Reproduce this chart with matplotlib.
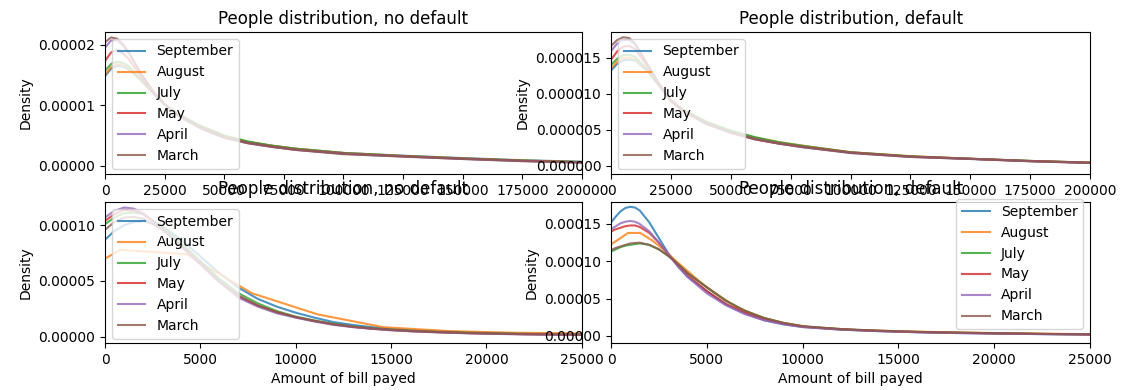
import matplotlib
matplotlib.use("Agg")
import matplotlib.pyplot as plt

plt.rcParams['axes.formatter.limits'] = (-7, 7)
plt.rcParams['font.family'] = ['DejaVu Sans']

months = ["September", "August", "July", "May", "April", "March"]
colors = ["C0", "C1", "C2", "C3", "C4", "C5"]

# top row: density (x1e-5)
x_wide = [0, 2500, 5000, 7500, 10000, 15000, 20000, 25000, 30000, 40000,
          50000, 60000, 70000, 80000, 100000, 125000, 150000, 175000, 200000]

no_default_wide = [
    [1.48, 1.60, 1.65, 1.64, 1.59, 1.41, 1.20, 1.01, 0.86, 0.65, 0.49, 0.39, 0.33, 0.28, 0.21, 0.165, 0.125, 0.09, 0.065],
    [1.50, 1.63, 1.68, 1.67, 1.61, 1.42, 1.21, 1.02, 0.87, 0.65, 0.49, 0.39, 0.33, 0.28, 0.21, 0.16, 0.12, 0.085, 0.06],
    [1.57, 1.68, 1.72, 1.70, 1.64, 1.43, 1.21, 1.02, 0.87, 0.66, 0.50, 0.40, 0.33, 0.28, 0.21, 0.16, 0.12, 0.085, 0.06],
    [1.73, 1.87, 1.91, 1.86, 1.76, 1.48, 1.22, 1.01, 0.85, 0.63, 0.47, 0.375, 0.315, 0.265, 0.20, 0.155, 0.115, 0.08, 0.055],
    [1.95, 2.07, 2.07, 1.99, 1.86, 1.53, 1.24, 1.01, 0.84, 0.62, 0.46, 0.37, 0.31, 0.26, 0.195, 0.15, 0.11, 0.075, 0.05],
    [2.04, 2.12, 2.10, 2.01, 1.87, 1.53, 1.24, 1.01, 0.84, 0.62, 0.46, 0.37, 0.31, 0.26, 0.19, 0.15, 0.11, 0.075, 0.05],
]

default_wide = [
    [1.32, 1.41, 1.46, 1.47, 1.46, 1.32, 1.11, 0.91, 0.77, 0.60, 0.48, 0.39, 0.32, 0.27, 0.19, 0.13, 0.10, 0.07, 0.045],
    [1.35, 1.44, 1.49, 1.50, 1.48, 1.33, 1.12, 0.91, 0.78, 0.60, 0.48, 0.39, 0.33, 0.28, 0.19, 0.135, 0.10, 0.07, 0.047],
    [1.40, 1.48, 1.53, 1.54, 1.51, 1.34, 1.12, 0.91, 0.78, 0.61, 0.49, 0.40, 0.33, 0.28, 0.19, 0.135, 0.10, 0.07, 0.047],
    [1.47, 1.58, 1.65, 1.66, 1.62, 1.39, 1.13, 0.90, 0.76, 0.58, 0.46, 0.37, 0.31, 0.265, 0.185, 0.13, 0.10, 0.068, 0.045],
    [1.59, 1.69, 1.74, 1.74, 1.68, 1.41, 1.14, 0.90, 0.76, 0.58, 0.46, 0.37, 0.31, 0.26, 0.18, 0.125, 0.097, 0.065, 0.042],
    [1.66, 1.74, 1.78, 1.77, 1.70, 1.42, 1.14, 0.90, 0.76, 0.58, 0.46, 0.37, 0.31, 0.26, 0.18, 0.125, 0.097, 0.065, 0.042],
]

# bottom row: amount of bill payed (x1e-4)
x_narrow = [0, 500, 1000, 1500, 2000, 3000, 4000, 5000, 6000, 7000, 8000, 9000, 10000, 11000, 12000,
            13000, 14000, 15000, 16000, 17000, 18000, 19000, 20000, 21000, 22000, 23000, 24000, 25000]
x_narrow_aug = [0, 800, 4250, 7700, 11150, 14600, 18050, 21500, 24950]

no_default_narrow = [
    [0.87, 0.95, 1.00, 1.03, 1.04, 0.99, 0.87, 0.72, 0.57, 0.44, 0.34, 0.27, 0.215, 0.17, 0.13, 0.105, 0.085, 0.07, 0.06, 0.052, 0.045, 0.04, 0.035, 0.031, 0.028, 0.026, 0.024, 0.022],
    [0.70, 0.78, 0.74, 0.39, 0.20, 0.085, 0.05, 0.035, 0.03],
    [1.01, 1.07, 1.11, 1.115, 1.10, 0.99, 0.84, 0.68, 0.52, 0.39, 0.30, 0.23, 0.18, 0.145, 0.115, 0.092, 0.075, 0.063, 0.053, 0.045, 0.04, 0.035, 0.031, 0.028, 0.025, 0.023, 0.021, 0.02],
    [1.04, 1.10, 1.14, 1.13, 1.10, 0.97, 0.81, 0.65, 0.49, 0.36, 0.28, 0.22, 0.175, 0.14, 0.11, 0.088, 0.072, 0.06, 0.05, 0.043, 0.037, 0.032, 0.028, 0.025, 0.022, 0.02, 0.018, 0.017],
    [1.07, 1.13, 1.16, 1.15, 1.11, 0.97, 0.81, 0.65, 0.49, 0.35, 0.27, 0.21, 0.17, 0.135, 0.105, 0.085, 0.07, 0.057, 0.048, 0.041, 0.035, 0.03, 0.026, 0.023, 0.02, 0.018, 0.016, 0.015],
    [0.96, 1.03, 1.07, 1.075, 1.06, 0.96, 0.82, 0.66, 0.50, 0.37, 0.28, 0.22, 0.175, 0.14, 0.11, 0.088, 0.072, 0.06, 0.05, 0.043, 0.037, 0.032, 0.028, 0.025, 0.022, 0.02, 0.018, 0.017],
]

x_def = [0, 250, 500, 750, 1000, 1250, 1500, 2000, 2500, 3000, 3500, 4000, 5000, 6000, 7000,
         8000, 9000, 10000, 12000, 14000, 16000, 18000, 20000, 22500, 25000]
x_def_aug = [0, 257, 887, 1517, 2147, 2777, 3407, 4037, 4667, 5297, 5927, 6557, 7817, 9077,
             10337, 12857, 15377, 17897, 20417, 22937, 25457]

default_narrow = [
    [1.52, 1.60, 1.67, 1.715, 1.73, 1.72, 1.68, 1.52, 1.31, 1.10, 0.93, 0.79, 0.60, 0.42, 0.30, 0.21, 0.155, 0.12, 0.085, 0.065, 0.05, 0.04, 0.033, 0.025, 0.02],
    [1.23, 1.27, 1.38, 1.38, 1.28, 1.15, 1.00, 0.86, 0.72, 0.60, 0.49, 0.39, 0.25, 0.17, 0.12, 0.08, 0.062, 0.048, 0.038, 0.03, 0.024],
    [1.13, 1.16, 1.19, 1.21, 1.22, 1.23, 1.24, 1.22, 1.16, 1.07, 0.96, 0.84, 0.65, 0.47, 0.335, 0.24, 0.175, 0.13, 0.092, 0.07, 0.055, 0.045, 0.037, 0.028, 0.022],
    [1.40, 1.43, 1.45, 1.47, 1.48, 1.48, 1.46, 1.38, 1.25, 1.09, 0.94, 0.81, 0.60, 0.43, 0.31, 0.22, 0.165, 0.125, 0.088, 0.067, 0.052, 0.042, 0.035, 0.027, 0.021],
    [1.43, 1.47, 1.51, 1.53, 1.54, 1.53, 1.50, 1.40, 1.25, 1.09, 0.93, 0.79, 0.57, 0.41, 0.29, 0.21, 0.16, 0.12, 0.085, 0.065, 0.05, 0.04, 0.033, 0.025, 0.02],
    [1.15, 1.18, 1.20, 1.22, 1.24, 1.245, 1.25, 1.22, 1.16, 1.07, 0.96, 0.84, 0.65, 0.47, 0.335, 0.24, 0.175, 0.13, 0.092, 0.07, 0.055, 0.045, 0.037, 0.028, 0.022],
]


def draw(ax, xs, series, scale, title, xlim, xticks, ylim, yticks, xlabel=None):
    for i, m in enumerate(months):
        ax.plot(xs[i], [v * scale for v in series[i]], color=colors[i], alpha=0.8, label=m)
    ax.set_title(title)
    ax.set_ylabel("Density")
    if xlabel:
        ax.set_xlabel(xlabel)
    ax.set_xlim(xlim)
    ax.set_xticks(xticks)
    ax.set_ylim(ylim)
    ax.set_yticks(yticks)


fig = plt.figure(figsize=(11.22, 3.9), dpi=100)
ax1 = fig.add_axes([0.0936, 0.554, 0.425, 0.364])
ax2 = fig.add_axes([0.5446, 0.554, 0.427, 0.364])
ax3 = fig.add_axes([0.0936, 0.1205, 0.425, 0.3615])
ax4 = fig.add_axes([0.5446, 0.1205, 0.427, 0.3615])

wide_ticks = list(range(0, 200001, 25000))
narrow_ticks = list(range(0, 25001, 5000))

draw(ax1, [x_wide] * 6, no_default_wide, 1e-5, "People distribution, no default",
     (0, 200000), wide_ticks, (-0.137e-5, 2.21e-5), [0, 1e-5, 2e-5])
draw(ax2, [x_wide] * 6, default_wide, 1e-5, "People distribution, default",
     (0, 200000), wide_ticks, (-0.11e-5, 1.853e-5), [0, 0.5e-5, 1e-5, 1.5e-5])
draw(ax3, [x_narrow, x_narrow_aug] + [x_narrow] * 4, no_default_narrow, 1e-4,
     "People distribution, no default", (0, 25000), narrow_ticks,
     (-0.057e-4, 1.209e-4), [0, 0.5e-4, 1e-4], "Amount of bill payed")
draw(ax4, [x_def, x_def_aug] + [x_def] * 4, default_narrow, 1e-4,
     "People distribution, default", (0, 25000), narrow_ticks,
     (-0.094e-4, 1.794e-4), [0, 0.5e-4, 1e-4, 1.5e-4], "Amount of bill payed")

ax1.legend(loc="upper left")
ax2.legend(loc="upper left")
ax3.legend(loc="upper left")
ax4.legend(loc="upper right", bbox_to_anchor=(1, 1.07))

fig.savefig("out.png", dpi=100)
